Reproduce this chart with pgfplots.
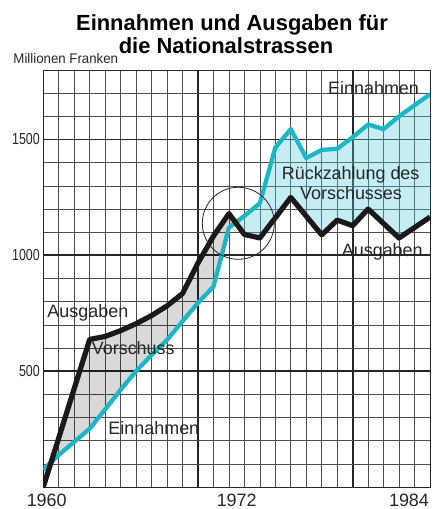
\documentclass[border=0pt]{standalone}
\usepackage{fontspec}
\setmainfont{Liberation Sans}
\newfontfamily\condfont[FakeStretch=0.78]{Liberation Sans}
\newfontfamily\midcond[FakeStretch=0.95]{Liberation Sans}
\usepackage{pgfplots}
\usepackage{pgfplotstable}
\pgfplotsset{compat=1.18}
\usepgfplotslibrary{fillbetween}
\definecolor{tealline}{RGB}{30,182,196}
\definecolor{cyanbase}{RGB}{86,206,221}
\pgfplotstableread{
year aus ein
1960 0 75
1961 212 138
1962 425 195
1963 637 252
1964 650 335
1965 675 420
1966 705 500
1967 740 570
1968 782 635
1969 835 715
1970 967 795
1971 1083 865
1972 1180 1120
1973 1090 1170
1974 1075 1225
1975 1162 1465
1976 1250 1545
1977 1169 1420
1978 1088 1455
1979 1152 1460
1980 1128 1510
1981 1200 1565
1982 1137 1545
1983 1075 1600
1984 1120 1648
1985 1165 1695
}\data
\begin{document}
\begin{tikzpicture}
\begin{axis}[
  at={(0,0)}, anchor=south west,
  scale only axis, width=386.7bp, height=417bp,
  xmin=1960, xmax=1985, ymin=0, ymax=1800,
  xtick={1970,1980}, xticklabels={,},
  minor xtick={1961,...,1984},
  ytick={500,1000,1500},
  minor ytick={100,200,...,1700},
  grid=both,
  major grid style={line width=1.7bp, black!85},
  minor grid style={line width=0.6bp, black!70},
  major tick length=0pt, minor tick length=0pt,
  axis line style={line width=0.9bp, black!85},
  /pgf/number format/1000 sep={},
  /pgf/number format/assume math mode=true,
  yticklabel style={font=\condfont\fontsize{16}{16}\selectfont, text=black!85},
]
\addplot[draw=none, name path=aus, forget plot] table[x=year,y=aus] {\data};
\addplot[draw=none, name path=ein, forget plot] table[x=year,y=ein] {\data};
\addplot[black, fill opacity=0.15, forget plot] fill between[of=aus and ein, soft clip={domain=1960:1972.43}];
\addplot[cyanbase, fill opacity=0.35, forget plot] fill between[of=aus and ein, soft clip={domain=1972.43:1985}];
\addplot[tealline, line width=4.3bp, line join=round, mark=none] table[x=year,y=ein] {\data};
\addplot[black!90, line width=5.2bp, line join=round, mark=none] table[x=year,y=aus] {\data};
\end{axis}
\draw[line width=0.8bp, black!85] (195bp,263.7bp) circle (36bp);
% title
\node[anchor=base, font=\bfseries\fontsize{22}{24}\selectfont, inner sep=0] at (188.7bp,456.3bp) {Einnahmen und Ausgaben für};
\node[anchor=base, font=\bfseries\fontsize{22}{24}\selectfont, inner sep=0] at (182.7bp,433.7bp) {die Nationalstrassen};
\node[anchor=base west, font=\midcond\fontsize{14}{14}\selectfont, inner sep=0, text=black!85] at (-30bp,423.7bp) {Millionen Franken};
% x labels
\node[anchor=base, font=\fontsize{18}{18}\selectfont, inner sep=0, text=black!85] at (3.4bp,-19bp) {1960};
\node[anchor=base, font=\fontsize{18}{18}\selectfont, inner sep=0, text=black!85] at (193.4bp,-19bp) {1972};
\node[anchor=base, font=\fontsize{18}{18}\selectfont, inner sep=0, text=black!85] at (365.7bp,-19bp) {1984};
% inside labels
\begin{scope}[every node/.style={anchor=base west, inner sep=0, font=\fontsize{18}{20}\selectfont, text=black!85}]
\node at (4bp,169.7bp) {Ausgaben};
\node at (48.4bp,132bp) {Vorschuss};
\node at (65bp,52bp) {Einnahmen};
\node at (284.7bp,392bp) {Einnahmen};
\node at (238.4bp,307bp) {Rückzahlung des};
\node at (256.7bp,287bp) {Vorschusses};
\node at (298.4bp,230.3bp) {Ausgaben};
\end{scope}
\pgfresetboundingbox
\useasboundingbox (-43.3bp,-22bp) rectangle (394.7bp,487bp);
\end{tikzpicture}
\end{document}
